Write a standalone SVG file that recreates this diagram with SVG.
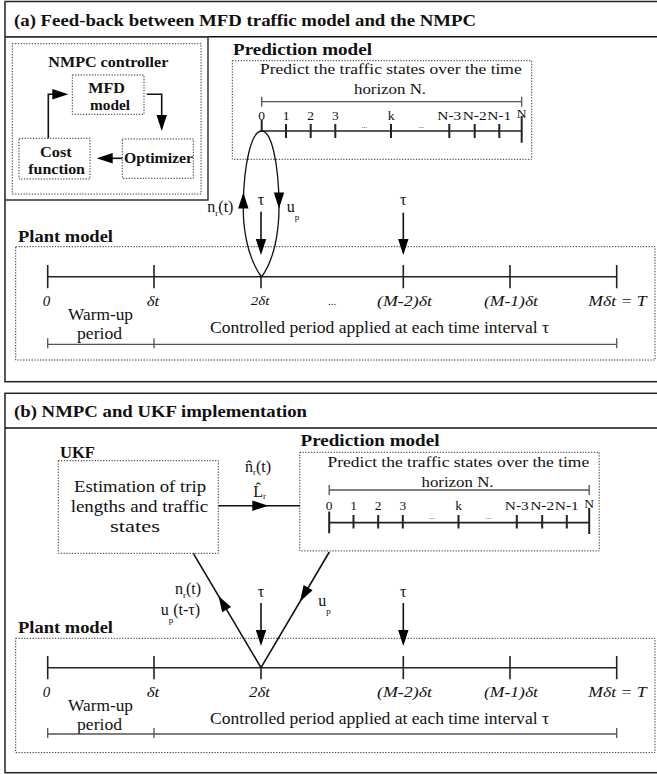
<svg xmlns="http://www.w3.org/2000/svg" xmlns:xlink="http://www.w3.org/1999/xlink" width="657" height="774" viewBox="0 0 657 774">
<style>
.frame{fill:none;stroke:#222;stroke-width:1.5}
.hdr{stroke:#111;stroke-width:1.6}
.solid{fill:none;stroke:#333;stroke-width:1.5}
.dot{fill:none;stroke:#333;stroke-width:1;stroke-dasharray:1.3 1.5}
.ln{fill:none;stroke:#111;stroke-width:1.6}
.ax{fill:none;stroke:#222;stroke-width:1.6}
.tk{fill:none;stroke:#222;stroke-width:2}
.br{fill:none;stroke:#555;stroke-width:1.3}
.t{font-family:"Liberation Serif","Times New Roman",serif;fill:#111;font-size:16px}
.b{font-weight:bold}
.i{font-style:italic}
.s{font-size:13.5px}
.m{text-anchor:middle}
.sub{font-size:9px}
.dots{font-size:7px}
.ah{fill:#000}
</style>
<defs>
<path id="ah" d="M0,0 L-16,-5.2 L-16,5.2 Z"/>
</defs>
<rect width="657" height="774" fill="#fff"/>

<g id="frame-a">
<rect class="frame" x="5" y="1.5" width="700" height="380.2"/>
<line class="hdr" x1="5" y1="36.7" x2="657" y2="36.7"/>
<text class="t b" x="14" y="26" style="font-size:17px" textLength="462" lengthAdjust="spacingAndGlyphs">(a) Feed-back between MFD traffic model and the NMPC</text>
</g>

<g id="nmpc-controller">
<path class="solid" d="M5,36.7 H208 V200 H5"/>
<rect class="dot" x="12.3" y="43.7" width="188.7" height="150.3"/>
<text class="t b" x="48.3" y="66.7" style="font-size:14.5px" textLength="120" lengthAdjust="spacingAndGlyphs">NMPC controller</text>
</g>

<g id="mfd-model">
<rect class="dot" x="72.3" y="75" width="71.7" height="39.3"/>
<text class="t b" x="88.3" y="92.7" style="font-size:14.5px" textLength="36.7" lengthAdjust="spacingAndGlyphs">MFD</text>
<text class="t b" x="90" y="110" style="font-size:14.5px" textLength="40" lengthAdjust="spacingAndGlyphs">model</text>
</g>

<g id="optimizer">
<rect class="dot" x="122.3" y="139" width="71" height="39.3"/>
<text class="t b" x="124" y="163.3" style="font-size:14.5px" textLength="69" lengthAdjust="spacingAndGlyphs">Optimizer</text>
</g>

<g id="cost-function">
<rect class="dot" x="19" y="138.3" width="71" height="40.7"/>
<text class="t b" x="40" y="156.7" style="font-size:14.5px" textLength="31.7" lengthAdjust="spacingAndGlyphs">Cost</text>
<text class="t b" x="28.3" y="174" style="font-size:14.5px" textLength="56.7" lengthAdjust="spacingAndGlyphs">function</text>
</g>

<g id="prediction-model-a">
<text class="t b" x="233" y="55" style="font-size:17px" textLength="139" lengthAdjust="spacingAndGlyphs">Prediction model</text>
<rect class="dot" x="232.3" y="60.7" width="299.4" height="98.6"/>
<text class="t" x="260" y="74" style="font-size:15.5px" textLength="261.7" lengthAdjust="spacingAndGlyphs">Predict the traffic states over the time</text>
<text class="t" x="354" y="94" style="font-size:15.5px" textLength="72" lengthAdjust="spacingAndGlyphs">horizon N.</text>
<path class="br" d="M261.7,101.7 H521.7 M261.7,96.7 V106.7 M521.7,96.7 V106.7"/>
<g class="t s m">
<text x="261.7" y="119.5">0</text><text x="286" y="119.5">1</text><text x="310.7" y="119.5">2</text><text x="335.3" y="119.5">3</text><text x="391" y="119.5">k</text>
<text x="449.3" y="119.5" textLength="24" lengthAdjust="spacingAndGlyphs">N-3</text><text x="474.7" y="119.5" textLength="24" lengthAdjust="spacingAndGlyphs">N-2</text><text x="499.3" y="119.5" textLength="24" lengthAdjust="spacingAndGlyphs">N-1</text><text x="521.7" y="117.5">N</text>
<text class="dots" x="364.3" y="127.7">...</text><text class="dots" x="421" y="127.7">...</text>
</g>
<line class="ax" x1="261.7" y1="131" x2="521.7" y2="131"/>
<path class="tk" d="M261.7,120 V131 M286,124 V138 M310.7,124 V138 M335.3,124 V138 M391,124 V138 M449.3,124 V138 M474.7,124 V138 M499.3,124 V138 M521.7,116 V142.7"/>
</g>

<g id="plant-model-a">
<text class="t b" x="18" y="242" style="font-size:17px" textLength="95" lengthAdjust="spacingAndGlyphs">Plant model</text>
<rect class="dot" x="15.7" y="246.7" width="639.3" height="113.3"/>
<line class="ax" x1="47.7" y1="276.7" x2="616.7" y2="276.7"/>
<path class="ax" d="M47.7,265 V288.3 M154,265 V288.3 M261,276.7 V288.3 M403.3,265 V288.3 M510,265 V288.3 M616.7,265 V288.3"/>
<g class="t i" style="font-size:15px">
<text x="42.7" y="306">0</text>
<text x="146.7" y="306" textLength="12.6" lengthAdjust="spacingAndGlyphs">δt</text>
<text x="250.7" y="305" style="font-size:13px" textLength="18.6" lengthAdjust="spacingAndGlyphs">2δt</text>
<text x="328" y="305" style="font-size:11px;font-style:normal">...</text>
<text x="377" y="306" textLength="55" lengthAdjust="spacingAndGlyphs">(M-2)δt</text>
<text x="484" y="306" textLength="54" lengthAdjust="spacingAndGlyphs">(M-1)δt</text>
<text x="588.3" y="306" textLength="58.4" lengthAdjust="spacingAndGlyphs">Mδt = T</text>
</g>
<text class="t" x="68" y="320" textLength="65" lengthAdjust="spacingAndGlyphs">Warm-up</text>
<text class="t" x="77" y="339" textLength="45" lengthAdjust="spacingAndGlyphs">period</text>
<text class="t" x="210" y="333.3" textLength="339" lengthAdjust="spacingAndGlyphs">Controlled period applied at each time interval τ</text>
<path class="br" d="M47.7,344.3 H616.7 M47.7,338.3 V348.3 M154,338.3 V348.3 M616.7,338.3 V348.3"/>
</g>

<g id="frame-b">
<rect class="frame" x="5" y="393.3" width="700" height="379.4"/>
<line class="hdr" x1="5" y1="428" x2="657" y2="428"/>
<text class="t b" x="14" y="416.7" style="font-size:17px" textLength="293" lengthAdjust="spacingAndGlyphs">(b) NMPC and UKF implementation</text>
</g>

<g id="ukf">
<text class="t b" x="60" y="457.7" style="font-size:17px" textLength="35" lengthAdjust="spacingAndGlyphs">UKF</text>
<rect class="dot" x="58.3" y="460.7" width="160" height="92.6"/>
<text class="t" x="74" y="491.7" style="font-size:17.5px" textLength="132" lengthAdjust="spacingAndGlyphs">Estimation of trip</text>
<text class="t" x="70.7" y="511.7" style="font-size:17.5px" textLength="137.6" lengthAdjust="spacingAndGlyphs">lengths and traffic</text>
<text class="t" x="110" y="531.7" style="font-size:17.5px" textLength="50" lengthAdjust="spacingAndGlyphs">states</text>
</g>

<g id="prediction-model-b" transform="translate(67.5,391.6)">
<text class="t b" x="233" y="54" style="font-size:17px" textLength="139" lengthAdjust="spacingAndGlyphs">Prediction model</text>
<rect class="dot" x="232.3" y="60.7" width="299.4" height="98.6"/>
<text class="t" x="260" y="75" style="font-size:15.5px" textLength="261.7" lengthAdjust="spacingAndGlyphs">Predict the traffic states over the time</text>
<text class="t" x="354" y="95" style="font-size:15.5px" textLength="72" lengthAdjust="spacingAndGlyphs">horizon N.</text>
<path class="br" d="M261.7,98.4 H521.7 M261.7,93.4 V103.4 M521.7,93.4 V103.4"/>
<g class="t s m">
<text x="261.7" y="118.4">0</text><text x="286" y="118.4">1</text><text x="310.7" y="118.4">2</text><text x="335.3" y="118.4">3</text><text x="391" y="118.4">k</text>
<text x="449.3" y="118.4" textLength="24" lengthAdjust="spacingAndGlyphs">N-3</text><text x="474.7" y="118.4" textLength="24" lengthAdjust="spacingAndGlyphs">N-2</text><text x="499.3" y="118.4" textLength="24" lengthAdjust="spacingAndGlyphs">N-1</text><text x="521.7" y="116.7">N</text>
<text class="dots" x="364.3" y="127.4">...</text><text class="dots" x="421" y="127.4">...</text>
</g>
<line class="ax" x1="261.7" y1="131" x2="521.7" y2="131"/>
<path class="tk" d="M261.7,120 V141.7 M286,123.4 V137 M310.7,123.4 V137 M335.3,123.4 V137 M391,123.4 V137 M449.3,123.4 V137 M474.7,123.4 V137 M499.3,123.4 V137 M521.7,116.4 V142.4"/>
</g>

<g id="plant-model-b" transform="translate(0,391)">
<text class="t b" x="18" y="242" style="font-size:17px" textLength="95" lengthAdjust="spacingAndGlyphs">Plant model</text>
<rect class="dot" x="15.7" y="247.3" width="639.3" height="114.3"/>
<line class="ax" x1="47.7" y1="276.7" x2="616.7" y2="276.7"/>
<path class="ax" d="M47.7,265 V288.3 M154,265 V288.3 M261,276.7 V288.3 M403.3,265 V288.3 M510,265 V288.3 M616.7,265 V288.3"/>
<g class="t i" style="font-size:15px">
<text x="42.7" y="306">0</text>
<text x="146.7" y="306" textLength="12.6" lengthAdjust="spacingAndGlyphs">δt</text>
<text x="249" y="306" style="font-size:15px" textLength="21" lengthAdjust="spacingAndGlyphs">2δt</text>
<text x="377" y="306" textLength="55" lengthAdjust="spacingAndGlyphs">(M-2)δt</text>
<text x="484" y="306" textLength="54" lengthAdjust="spacingAndGlyphs">(M-1)δt</text>
<text x="588.3" y="306" textLength="58.4" lengthAdjust="spacingAndGlyphs">Mδt = T</text>
</g>
<text class="t" x="68" y="320" textLength="65" lengthAdjust="spacingAndGlyphs">Warm-up</text>
<text class="t" x="77" y="339" textLength="45" lengthAdjust="spacingAndGlyphs">period</text>
<text class="t" x="210" y="333.3" textLength="339" lengthAdjust="spacingAndGlyphs">Controlled period applied at each time interval τ</text>
<path class="br" d="M47.7,343 H616.7 M47.7,337 V347 M154,337 V347 M616.7,337 V347"/>
</g>

<g id="connectors">
<polyline class="ln" points="48.3,138.3 48.3,94.3 54,94.3"/>
<use href="#ah" class="ah" transform="translate(68.3,94.3)"/>
<polyline class="ln" points="146.7,94.3 161.7,94.3 161.7,117"/>
<use href="#ah" class="ah" transform="translate(161.7,131) rotate(90)"/>
<line class="ln" x1="122.3" y1="158.3" x2="110" y2="158.3"/>
<use href="#ah" class="ah" transform="translate(96.7,158.3) rotate(180)"/>
<path class="ln" style="stroke-width:1.3" d="M261.5,277 C249,260 242.5,232 243.3,203 C244,165 251,131 261.7,131 C272,131 278.5,165 279,203 C279.5,232 274,260 261.5,277"/>
<use href="#ah" class="ah" transform="translate(243.3,192.5) rotate(-90)"/>
<use href="#ah" class="ah" transform="translate(279,208.5) rotate(90)"/>
<line class="ln" x1="261" y1="211.7" x2="261" y2="241"/>
<use href="#ah" class="ah" transform="translate(261,255) rotate(90)"/>
<line class="ln" x1="403.3" y1="212.7" x2="403.3" y2="241"/>
<use href="#ah" class="ah" transform="translate(403.3,255) rotate(90)"/>
<line class="ln" x1="218.3" y1="505.7" x2="300" y2="505.7"/>
<use href="#ah" class="ah" transform="translate(268.3,505.7)"/>
<line class="ln" x1="193.3" y1="553.3" x2="261" y2="667.7"/>
<use href="#ah" class="ah" transform="translate(218.5,595.9) rotate(-120.6)"/>
<line class="ln" x1="329.3" y1="552" x2="261" y2="667.7"/>
<use href="#ah" class="ah" transform="translate(300,601.4) rotate(120.5)"/>
<line class="ln" x1="261" y1="603" x2="261" y2="631"/>
<use href="#ah" class="ah" transform="translate(261,646) rotate(90)"/>
<line class="ln" x1="403.3" y1="603" x2="403.3" y2="631"/>
<use href="#ah" class="ah" transform="translate(403.3,646) rotate(90)"/>
</g>

<g id="connector-labels" class="t">
<text x="207.3" y="212">n<tspan class="sub" dy="4">r</tspan><tspan dy="-4">(t)</tspan></text>
<text x="261" y="205" class="m">τ</text>
<text x="286.7" y="212">u<tspan class="sub" dy="8">p</tspan></text>
<text x="403.3" y="205" class="m">τ</text>
<text x="245" y="471.7">n̂<tspan class="sub" dy="3.5">r</tspan><tspan dy="-3.5">(t)</tspan></text>
<text x="253.3" y="496.7">L̂<tspan class="sub" dy="2">r</tspan></text>
<text x="175" y="594">n<tspan class="sub" dy="3.5">r</tspan><tspan dy="-3.5">(t)</tspan></text>
<text x="160.7" y="615">u<tspan class="sub" dy="8">p</tspan><tspan dy="-8">(t-τ)</tspan></text>
<text x="261" y="597" class="m">τ</text>
<text x="318.3" y="606">u<tspan class="sub" dy="8">p</tspan></text>
<text x="403.3" y="597" class="m">τ</text>
</g>
</svg>
